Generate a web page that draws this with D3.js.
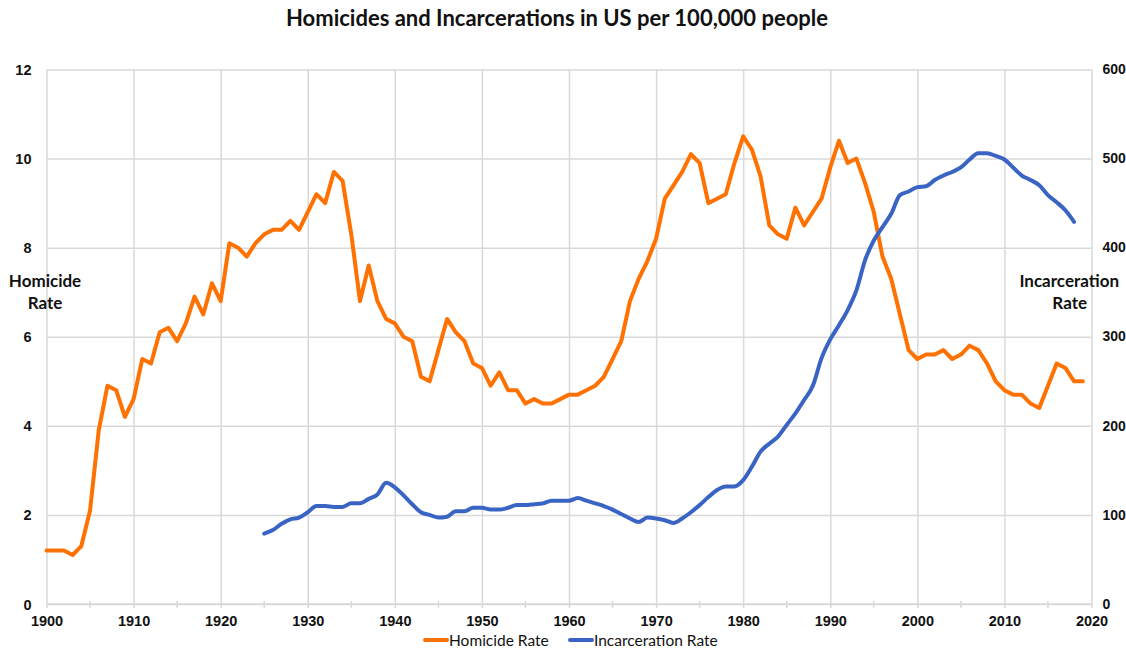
<!DOCTYPE html>
<html>
<head>
<meta charset="utf-8">
<script src="https://cdn.jsdelivr.net/npm/d3@7"></script>
<style>
  body { margin: 0; background: #fff; }
  svg { display: block; font-family: Lato, "Open Sans", sans-serif; }
</style>
</head>
<body>
<svg id="chart"></svg>
<script>
// Homicide rate per 100,000 (left axis), 1900-2019
const homicideYears = d3.range(1900, 2020);
const homicideRate = [
  1.2, 1.2, 1.2, 1.1, 1.3, 2.1, 3.9, 4.9, 4.8, 4.2,
  4.6, 5.5, 5.4, 6.1, 6.2, 5.9, 6.3, 6.9, 6.5, 7.2,
  6.8, 8.1, 8.0, 7.8, 8.1, 8.3, 8.4, 8.4, 8.6, 8.4,
  8.8, 9.2, 9.0, 9.7, 9.5, 8.3, 6.8, 7.6, 6.8, 6.4,
  6.3, 6.0, 5.9, 5.1, 5.0, 5.7, 6.4, 6.1, 5.9, 5.4,
  5.3, 4.9, 5.2, 4.8, 4.8, 4.5, 4.6, 4.5, 4.5, 4.6,
  4.7, 4.7, 4.8, 4.9, 5.1, 5.5, 5.9, 6.8, 7.3, 7.7,
  8.2, 9.1, 9.4, 9.7, 10.1, 9.9, 9.0, 9.1, 9.2, 9.9,
  10.5, 10.2, 9.6, 8.5, 8.3, 8.2, 8.9, 8.5, 8.8, 9.1,
  9.8, 10.4, 9.9, 10.0, 9.45, 8.8, 7.8, 7.3, 6.5, 5.7,
  5.5, 5.6, 5.6, 5.7, 5.5, 5.6, 5.8, 5.7, 5.4, 5.0,
  4.8, 4.7, 4.7, 4.5, 4.4, 4.9, 5.4, 5.3, 5.0, 5.0
];

// Incarceration rate per 100,000 (right axis), 1925-2018
const incarcerationYears = d3.range(1925, 2019);
const incarcerationRate = [
  79, 83, 90, 95, 97, 103, 110, 110, 109, 109,
  113, 113, 118, 123, 136, 131, 122, 112, 103, 100,
  97, 98, 104, 104, 108, 108, 106, 106, 108, 111,
  111, 112, 113, 116, 116, 116, 119, 116, 113, 110,
  106, 101, 96, 92, 97, 96, 94, 91, 96, 103,
  111, 120, 128, 132, 132, 139, 154, 171, 180, 188,
  201, 214, 229, 245, 276, 297, 313, 330, 352, 386,
  408, 423, 438, 459, 463, 468, 469, 476, 481, 485,
  490, 499, 506, 506, 503, 499, 490, 481, 476, 470,
  459, 451, 442, 429
];

const leftTicks = [0, 2, 4, 6, 8, 10, 12];
const rightTicks = [0, 100, 200, 300, 400, 500, 600];
const yearTicks = d3.range(1900, 2021, 10);
const minorYearTicks = d3.range(1905, 2020, 10);

const W = 1126, H = 651;
const margin = { top: 69.5, right: 34.5, bottom: 47, left: 46.5 };
const width = W - margin.left - margin.right;
const height = H - margin.top - margin.bottom;

const orange = '#ff7100';
const blue = '#3a64c4';
const grid = '#d9d9d9';

const svg = d3.select('#chart').attr('width', W).attr('height', H);

const x = d3.scaleLinear().domain([1900, 2020]).range([0, width]);
const yLeft = d3.scaleLinear().domain([0, 12]).range([height, 0]);
const yRight = d3.scaleLinear().domain([0, 600]).range([height, 0]);

const g = svg.append('g').attr('transform', `translate(${margin.left},${margin.top})`);

// horizontal gridlines + left tick labels
g.append('g')
  .call(d3.axisLeft(yLeft).tickValues(leftTicks).tickSize(-width).tickPadding(15).tickFormat(d3.format('d')))
  .call(ax => ax.select('.domain').remove())
  .call(ax => ax.selectAll('line').attr('stroke', grid).attr('stroke-width', 1.5))
  .call(ax => ax.selectAll('text')
    .attr('font-size', 14.5).attr('font-weight', 700).attr('fill', '#111').attr('dy', '0.35em'));

// right tick labels
g.append('g')
  .attr('transform', `translate(${width},0)`)
  .call(d3.axisRight(yRight).tickValues(rightTicks).tickSize(0).tickPadding(11).tickFormat(d3.format('d')))
  .call(ax => ax.select('.domain').remove())
  .call(ax => ax.selectAll('text')
    .attr('font-size', 14).attr('font-weight', 700).attr('fill', '#111').attr('dy', '0.3em'));

// vertical gridlines + year labels
g.append('g')
  .attr('transform', `translate(0,${height})`)
  .call(d3.axisBottom(x).tickValues(yearTicks).tickSize(-height - 4).tickPadding(12).tickFormat(d3.format('d')))
  .call(ax => ax.select('.domain').remove())
  .call(ax => ax.selectAll('line').attr('stroke', grid).attr('stroke-width', 1.5).attr('y2', -height).attr('y1', 4))
  .call(ax => ax.selectAll('text')
    .attr('font-size', 14.5).attr('font-weight', 700).attr('fill', '#111'));

// minor tick marks on x axis
g.append('g')
  .selectAll('line')
  .data(minorYearTicks)
  .enter().append('line')
  .attr('x1', d => x(d)).attr('x2', d => x(d))
  .attr('y1', height - 3).attr('y2', height + 4)
  .attr('stroke', grid).attr('stroke-width', 1.5);

// baseline
g.append('line')
  .attr('x1', 0).attr('x2', width)
  .attr('y1', height).attr('y2', height)
  .attr('stroke', grid).attr('stroke-width', 1.5);

const homicideData = homicideYears.map((yr, i) => ({ year: yr, value: homicideRate[i] }));
const incarcerationData = incarcerationYears.map((yr, i) => ({ year: yr, value: incarcerationRate[i] }));

g.append('path')
  .datum(homicideData)
  .attr('fill', 'none')
  .attr('stroke', orange)
  .attr('stroke-width', 4)
  .attr('stroke-linejoin', 'round')
  .attr('stroke-linecap', 'round')
  .attr('d', d3.line().x(d => x(d.year)).y(d => yLeft(d.value)));

g.append('path')
  .datum(incarcerationData)
  .attr('fill', 'none')
  .attr('stroke', blue)
  .attr('stroke-width', 4)
  .attr('stroke-linejoin', 'round')
  .attr('stroke-linecap', 'round')
  .attr('d', d3.line().curve(d3.curveMonotoneX).x(d => x(d.year)).y(d => yRight(d.value)));

// title
svg.append('text')
  .attr('x', 557).attr('y', 26)
  .attr('text-anchor', 'middle')
  .attr('font-size', 22).attr('font-weight', 700).attr('fill', '#111')
  .text('Homicides and Incarcerations in US per 100,000 people');

// axis titles
const leftTitle = svg.append('text')
  .attr('text-anchor', 'middle').attr('font-size', 17).attr('font-weight', 700).attr('fill', '#111');
leftTitle.append('tspan').attr('x', 45).attr('y', 287).text('Homicide');
leftTitle.append('tspan').attr('x', 45).attr('y', 309).text('Rate');

const rightTitle = svg.append('text')
  .attr('text-anchor', 'end').attr('font-size', 17).attr('font-weight', 700).attr('fill', '#111');
rightTitle.append('tspan').attr('x', 1119).attr('y', 287).text('Incarceration');
rightTitle.append('tspan').attr('x', 1087).attr('y', 309).text('Rate');

// legend
const legend = svg.append('g').attr('transform', 'translate(423,640)');
const legendItems = [
  { label: 'Homicide Rate', color: orange, dx: 0 },
  { label: 'Incarceration Rate', color: blue, dx: 145 }
];
legendItems.forEach(item => {
  legend.append('line')
    .attr('x1', item.dx + 2).attr('x2', item.dx + 24)
    .attr('y1', 0).attr('y2', 0)
    .attr('stroke', item.color).attr('stroke-width', 4).attr('stroke-linecap', 'round');
  legend.append('text')
    .attr('x', item.dx + 26).attr('y', 5.5)
    .attr('font-size', 15.5).attr('fill', '#111')
    .text(item.label);
});
</script>
</body>
</html>
